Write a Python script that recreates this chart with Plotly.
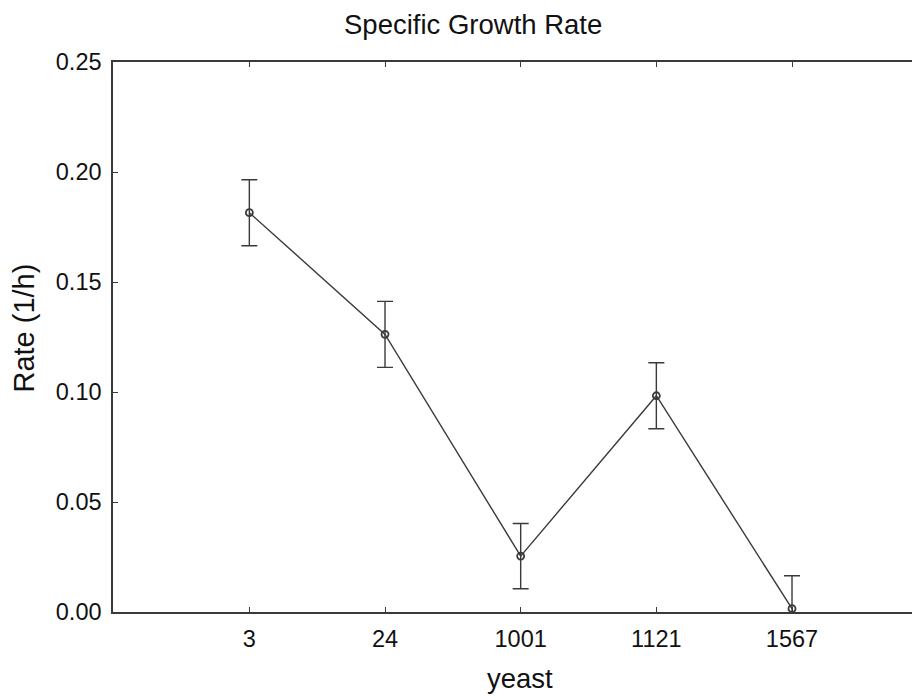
import plotly.graph_objects as go

categories = ["3", "24", "1001", "1121", "1567"]
rate = [0.1815, 0.1262, 0.0254, 0.0983, 0.0015]
err = [0.0150, 0.0150, 0.0148, 0.0150, 0.0150]
y_ticks = [0.00, 0.05, 0.10, 0.15, 0.20, 0.25]
y_ticktext = ["0.00", "0.05", "0.10", "0.15", "0.20", "0.25"]

xpos = list(range(len(categories)))
C = "#3a3a3a"
OFF = 8  # page body margin

fig = go.Figure()
fig.add_trace(go.Scatter(
    x=xpos, y=rate, mode="lines+markers",
    line=dict(color=C, width=1.4),
    marker=dict(symbol="circle-open", size=7, color=C, line=dict(width=1.8, color=C)),
    error_y=dict(type="data", array=err, visible=True, color=C, thickness=1.4, width=8),
    cliponaxis=True,
    showlegend=False,
))

W, H = 920, 700
L, T, B, R = 112.5 - OFF, 62 - OFF, 700 - (612 - OFF), 0
x0 = -1.005
x1 = x0 + (W - L) / 135.75
PW, PH = W - L - R, H - T - B


def px2paper(px, py):
    fx, fy = px - OFF, py - OFF
    return (fx - L) / PW, 1 - (fy - T) / PH


tx, ty = px2paper(473, 25)
xx, xy = px2paper(520, 678)
yx, yy = px2paper(23, 328)

fig.update_layout(
    width=W, height=H,
    margin=dict(l=L, r=R, t=T, b=B, pad=0),
    plot_bgcolor="white", paper_bgcolor="white",
    font=dict(family="Liberation Sans, Arial, sans-serif", color="#111111"),
    xaxis=dict(
        range=[x0, x1], tickmode="array", tickvals=xpos, ticktext=categories,
        showgrid=False, zeroline=False, showline=True, linecolor=C, linewidth=1.5,
        mirror="ticks", ticks="inside", ticklen=5, tickcolor=C, tickwidth=1.2,
        tickfont=dict(size=23.5), ticklabelstandoff=5,
    ),
    yaxis=dict(
        range=[0, 0.25], tickmode="array", tickvals=y_ticks, ticktext=y_ticktext,
        showgrid=False, zeroline=False, showline=True, linecolor=C, linewidth=1.5,
        ticks="inside", ticklen=5, tickcolor=C, tickwidth=1.2,
        tickfont=dict(size=23.5), ticklabelstandoff=5,
    ),
    annotations=[
        dict(text="Specific Growth Rate", x=tx, y=ty, xref="paper", yref="paper",
             showarrow=False, font=dict(size=27.5), xanchor="center", yanchor="middle"),
        dict(text="yeast", x=xx, y=xy, xref="paper", yref="paper",
             showarrow=False, font=dict(size=27.5), xanchor="center", yanchor="middle"),
        dict(text="Rate (1/h)", x=yx, y=yy, xref="paper", yref="paper",
             showarrow=False, font=dict(size=29), textangle=-90, xanchor="center", yanchor="middle"),
    ],
)

fig.write_html("out.html")
